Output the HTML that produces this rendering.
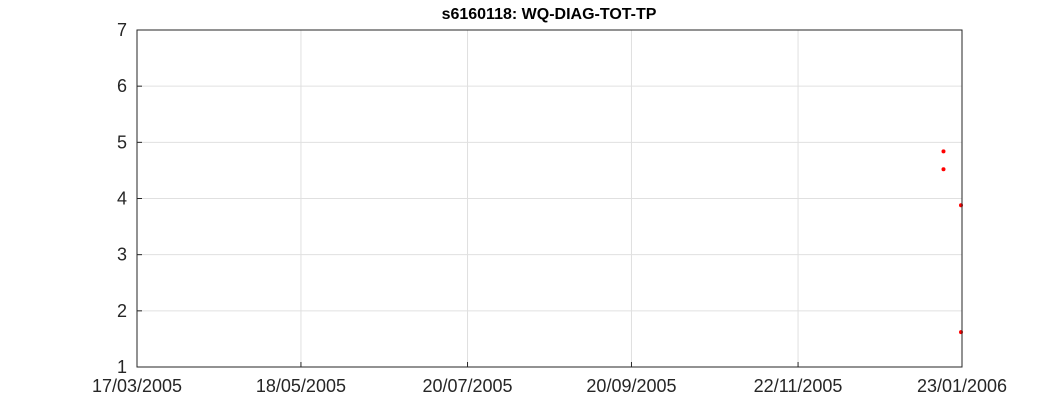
<!DOCTYPE html>
<html><head><meta charset="utf-8"><style>
html,body{margin:0;padding:0;background:#fff;}
svg{display:block;font-family:"Liberation Sans",sans-serif;}
</style></head><body>
<svg id="chart" width="1063" height="413" viewBox="0 0 1063 413" xmlns="http://www.w3.org/2000/svg">
<rect x="0" y="0" width="1063" height="413" fill="#fff"/>
<rect x="137" y="30" width="825" height="337" fill="#fff"/>
<g id="grid"></g>
<g id="ticks"></g>
<g id="points"></g>
<rect x="137" y="30" width="825" height="337" fill="none" stroke="#262626" stroke-width="1"/>
<text x="549" y="19" text-anchor="middle" font-size="16" font-weight="bold" fill="#000">s6160118: WQ-DIAG-TOT-TP</text>
</svg>
<script>
const xTickLabels = ["17/03/2005","18/05/2005","20/07/2005","20/09/2005","22/11/2005","23/01/2006"];
const xTickDays = [0,62,125,187,250,312];
const yTicks = [1,2,3,4,5,6,7];
const pointDays = [305,305,312,312];
const pointValues = [4.84,4.52,3.88,1.62];

const X0=137,X1=962,Y0=367,Y1=30;
const xMin=0,xMax=312,yMin=1,yMax=7;
const sx=d=>X0+(d-xMin)/(xMax-xMin)*(X1-X0);
const sy=v=>Y0-(v-yMin)/(yMax-yMin)*(Y0-Y1);
const NS="http://www.w3.org/2000/svg";
const grid=document.getElementById('grid'),ticks=document.getElementById('ticks'),pts=document.getElementById('points');
function mk(tag,attrs,parent){const e=document.createElementNS(NS,tag);for(const k in attrs)e.setAttribute(k,attrs[k]);parent.appendChild(e);return e;}
xTickDays.forEach((d,i)=>{
  const x=sx(d);
  const g=mk('line',{x1:x,x2:x,y1:Y1,y2:Y0,stroke:'#e0e0e0','stroke-width':1},grid);
  
  
  const t=mk('line',{x1:x,x2:x,y1:Y0,y2:Y0-5,stroke:'#262626','stroke-width':1},ticks);
  
  
  const l=mk('text',{x:x,y:Y0+25,'text-anchor':'middle','font-size':18,fill:'#262626'},ticks);
  l.textContent=xTickLabels[i];
  
  
});
yTicks.forEach(v=>{
  const y=sy(v);
  const g=mk('line',{x1:X0,x2:X1,y1:y,y2:y,stroke:'#e0e0e0','stroke-width':1},grid);
  
  
  const t=mk('line',{x1:X0,x2:X0+5,y1:y,y2:y,stroke:'#262626','stroke-width':1},ticks);
  
  
  const l=mk('text',{x:X0-10,y:y+6,'text-anchor':'end','font-size':18,fill:'#262626'},ticks);
  l.textContent=v;
  
  
});
pointDays.forEach((d,i)=>{
  const c=mk('circle',{cx:sx(d)+(d===312?-1:0),cy:sy(pointValues[i]),r:2,fill:'#ff0000'},pts);
  
  
});
</script>
</body></html>
